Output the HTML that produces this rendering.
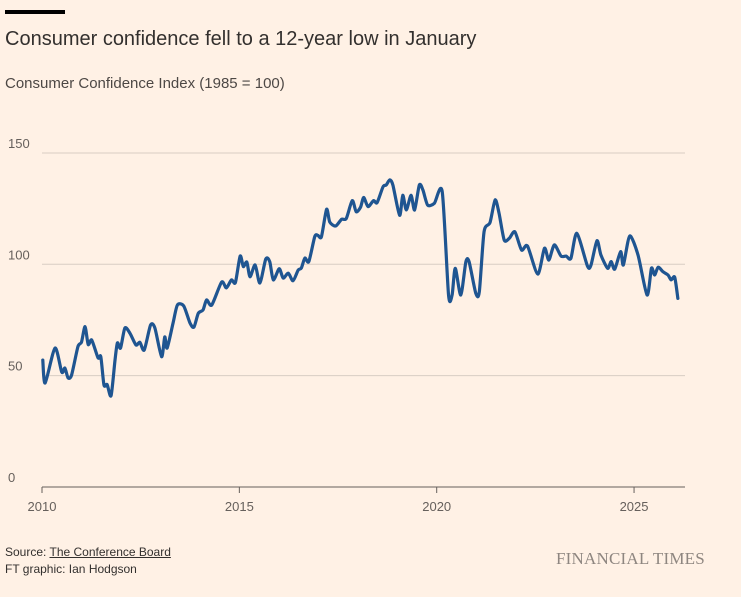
<!DOCTYPE html>
<html><head><meta charset="utf-8"><style>
body{margin:0;background:#fff1e5;font-family:"Liberation Sans",sans-serif;}
#wrap{position:relative;width:741px;height:597px;overflow:hidden;background:#fff1e5;}
.t{position:absolute;white-space:nowrap;}
</style></head><body>
<div id="wrap">
<div style="position:absolute;left:5px;top:10px;width:60px;height:4px;background:#000"></div>
<div class="t" style="left:5px;top:28px;font-size:20px;color:#33302e">Consumer confidence fell to a 12-year low in January</div>
<div class="t" style="left:5px;top:75px;font-size:15px;color:#4d4845">Consumer Confidence Index (1985 = 100)</div>
<svg id="chart" width="741" height="597" style="position:absolute;left:0;top:0"></svg>
<div class="t" style="left:5px;top:545px;font-size:12px;color:#33302e">Source: <span style="text-decoration:underline">The Conference Board</span></div>
<div class="t" style="left:5px;top:562px;font-size:12px;color:#33302e">FT graphic: Ian Hodgson</div>
<div class="t" style="left:556px;top:549px;font-size:17px;font-family:'Liberation Serif',serif;color:#8e8680;letter-spacing:0.2px">FINANCIAL TIMES</div>
</div>
<script>
const dates=[2010.02,2010.08,2010.33,2010.5,2010.58,2010.66,2010.75,2010.91,2011.0,2011.09,2011.17,2011.26,2011.42,2011.49,2011.57,2011.65,2011.75,2011.85,2011.91,2011.99,2012.1,2012.23,2012.38,2012.48,2012.59,2012.75,2012.86,2013.03,2013.11,2013.17,2013.32,2013.43,2013.59,2013.75,2013.85,2013.96,2014.08,2014.17,2014.3,2014.55,2014.67,2014.8,2014.9,2015.02,2015.1,2015.19,2015.27,2015.4,2015.52,2015.67,2015.77,2015.86,2016.01,2016.11,2016.24,2016.36,2016.49,2016.57,2016.66,2016.76,2016.91,2016.99,2017.08,2017.21,2017.29,2017.44,2017.59,2017.71,2017.86,2017.96,2018.07,2018.15,2018.26,2018.4,2018.49,2018.64,2018.72,2018.81,2018.89,2019.06,2019.14,2019.23,2019.35,2019.44,2019.56,2019.65,2019.77,2019.94,2020.14,2020.3,2020.39,2020.47,2020.61,2020.74,2020.82,2020.99,2021.08,2021.2,2021.35,2021.48,2021.58,2021.71,2021.84,2021.98,2022.15,2022.3,2022.56,2022.73,2022.84,2022.98,2023.15,2023.28,2023.4,2023.55,2023.82,2023.91,2024.06,2024.16,2024.33,2024.42,2024.51,2024.66,2024.73,2024.89,2025.1,2025.33,2025.44,2025.52,2025.61,2025.73,2025.86,2025.94,2026.03,2026.11];
const values=[57,46.7,62.4,51.6,53.4,49,50.3,63,65,72,64,66,58,58.5,45.8,46,41,57,64.7,62.4,71.4,69,63.8,65,61.5,72.7,71.4,58.5,67.4,62.4,73.6,81.7,81.3,73.6,71.8,78,79.5,84,81.7,92,89.4,93,91.8,103.7,99,101,94.4,99.7,91.6,102.4,101.2,93,98,93.8,96,92.6,97.4,98.3,102.8,101.2,112.4,113,112.4,124.7,119,117.2,120.2,120.6,128.6,123.6,125.6,130,125.9,128.6,127.7,134.8,135.6,137.9,135.6,122,131,124.4,131,124.4,135.6,133.4,126.6,127.4,132.6,86.2,86.2,98.2,86.2,101.2,101.2,87,87.7,114.6,118.7,128.9,122.9,110.9,111.7,114.6,106.4,108.2,95.6,107.2,101.9,108.7,103.7,103.7,102.7,113.9,99.2,99.7,110.6,104.2,98.2,101.2,97.8,105.7,99.7,112.7,104.2,86.2,98.2,95.2,98.7,96.7,95.2,93,94.2,84.7];
const yTicks=[0,50,100,150];
const xTicks=[2010,2015,2020,2025];
const svg=document.getElementById('chart');
const NS='http://www.w3.org/2000/svg';
const x0=42,x1=685;
const xs=d=>42+(d-2010)*39.47;
const ys=v=>487-v*2.227;
function mk(t,a){const e=document.createElementNS(NS,t);for(const k in a)e.setAttribute(k,a[k]);svg.appendChild(e);return e;}
yTicks.forEach(v=>{
  const l=mk('line',{x1:x0,x2:x1,y1:ys(v),y2:ys(v),stroke:v===0?'#66605c':'#d8cdc4','stroke-width':1});
  
  
  const t=mk('text',{x:8,y:ys(v)-5,'font-size':13,fill:'#66605c','font-family':'Liberation Sans, sans-serif'});
  t.textContent=v;
  
  
});
xTicks.forEach(d=>{
  const l=mk('line',{x1:xs(d),x2:xs(d),y1:487,y2:493,stroke:'#66605c','stroke-width':1});
  
  
  const t=mk('text',{x:xs(d),y:511,'font-size':13,fill:'#66605c','text-anchor':'middle','font-family':'Liberation Sans, sans-serif'});
  t.textContent=d;
  
  
});
const pts=dates.map((d,i)=>[xs(d),ys(values[i])]);
let p='M'+pts[0][0]+','+pts[0][1];
for(let i=0;i<pts.length-1;i++){
  const a=pts[i-1]||pts[i],b=pts[i],c=pts[i+1],e=pts[i+2]||c;
  const k=1/8;
  p+=' C'+(b[0]+(c[0]-a[0])*k)+','+(b[1]+(c[1]-a[1])*k)+' '+(c[0]-(e[0]-b[0])*k)+','+(c[1]-(e[1]-b[1])*k)+' '+c[0]+','+c[1];
}
const line=mk('path',{d:p,fill:'none',stroke:'#1f5591','stroke-width':3.2,'stroke-linejoin':'round','stroke-linecap':'round'});


</script>
</body></html>
